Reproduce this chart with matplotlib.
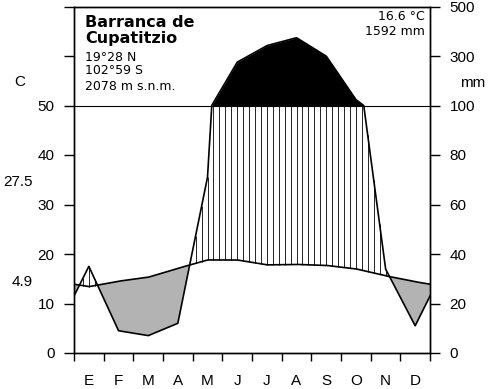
import numpy as np
import matplotlib
matplotlib.use('Agg')
import matplotlib.pyplot as plt

months = ['E', 'F', 'M', 'A', 'M', 'J', 'J', 'A', 'S', 'O', 'N', 'D']
temp = [13.4, 14.5, 15.3, 17.1, 18.8, 18.8, 17.8, 17.9, 17.7, 17.0, 15.6, 14.4]
prec = [35, 9, 7, 12, 71, 275, 342, 374, 300, 124, 34, 11]
station = ['Barranca de', 'Cupatitzio']
coords = ['19°28 N', '102°59 S', '2078 m s.n.m.']
summary = ['16.6 °C', '1592 mm']
left_ticks = [0, 10, 20, 30, 40, 50, 60, 70]
left_labels = ['0', '10', '20', '30', '40', '50', '', '']
right_labels = ['0', '20', '40', '60', '80', '100', '300', '500']
extremes = ['27.5', '4.9']

plt.rcParams['font.family'] = ['Liberation Sans', 'DejaVu Sans']

W, H = 493, 389
fig = plt.figure(figsize=(W / 100, H / 100), dpi=100)
ax = fig.add_axes([74 / W, 1 - 353 / H, 356 / W, (353 - 6.5) / H])

xm = np.arange(12) + 0.5
xe = np.concatenate([[-0.5], xm, [12.5]])
te = np.array([temp[-1]] + temp + [temp[0]])
pe = np.array([prec[-1]] + prec + [prec[0]], dtype=float)

xf = np.linspace(-0.5, 12.5, 5201)
ti = np.interp(xf, xe, te)
pi = np.interp(xf, xe, pe)
ps = np.where(pi <= 100, pi / 2, 50 + (pi - 100) * 0.05)

ax.fill_between(xf, ps, ti, where=ps < ti, color='#b3b3b3', lw=0, interpolate=True)
ax.fill_between(xf, 50, ps, where=ps > 50, color='black', lw=0, interpolate=True)

xh = np.arange(0.1, 12, 0.2)
th = np.interp(xh, xf, ti)
ph = np.interp(xh, xf, ps)
m = ph > th
ax.vlines(xh[m], th[m], np.minimum(ph[m], 50), color='black', lw=0.6)

ax.plot(xf, ti, color='black', lw=1.2)
ax.plot(xf, ps, color='black', lw=1.2)
ax.axhline(50, color='black', lw=0.8)

ax.set_xlim(0, 12)
ax.set_ylim(0, 70)
for s in ax.spines.values():
    s.set_linewidth(1.0)

ax.set_yticks(left_ticks)
ax.set_yticklabels(left_labels)
ax.tick_params(axis='y', direction='out', length=7, width=1, pad=7, labelsize=11)

ax.set_xticks(range(13))
ax.set_xticklabels([''] * 13)
ax.tick_params(axis='x', which='major', direction='out', length=6, width=1)
ax.set_xticks(xm, minor=True)
ax.set_xticklabels(months, minor=True)
ax.tick_params(axis='x', which='minor', length=0, pad=15, labelsize=11)

ax2 = ax.twinx()
ax2.set_ylim(0, 70)
ax2.set_yticks(left_ticks)
ax2.set_yticklabels(right_labels)
ax2.tick_params(axis='y', direction='out', length=7, width=1, pad=7, labelsize=11)
for s in ax2.spines.values():
    s.set_linewidth(1.0)

def ftext(x, y, s, **kw):
    fig.text(x / W, 1 - y / H, s, **kw)

ftext(85, 27, station[0], family='DejaVu Sans', weight='bold', fontsize=11.5, va='baseline')
ftext(85, 43, station[1], family='DejaVu Sans', weight='bold', fontsize=11.5, va='baseline')
ftext(85, 61, coords[0], family='DejaVu Sans', fontsize=9, va='baseline')
ftext(85, 74, coords[1], family='DejaVu Sans', fontsize=9, va='baseline')
ftext(85, 90.5, coords[2], family='DejaVu Sans', fontsize=9, va='baseline')
ftext(425, 20.5, summary[0], family='DejaVu Sans', fontsize=9, va='baseline', ha='right')
ftext(425, 35, summary[1], family='DejaVu Sans', fontsize=9, va='baseline', ha='right')

ftext(20, 82, 'C', fontsize=11, ha='center', va='center')
ftext(473, 83, 'mm', fontsize=11, ha='center', va='center')
ftext(33, 182, extremes[0], fontsize=11, ha='right', va='center')
ftext(33, 282, extremes[1], fontsize=11, ha='right', va='center')

fig.savefig('out.png', dpi=100)
